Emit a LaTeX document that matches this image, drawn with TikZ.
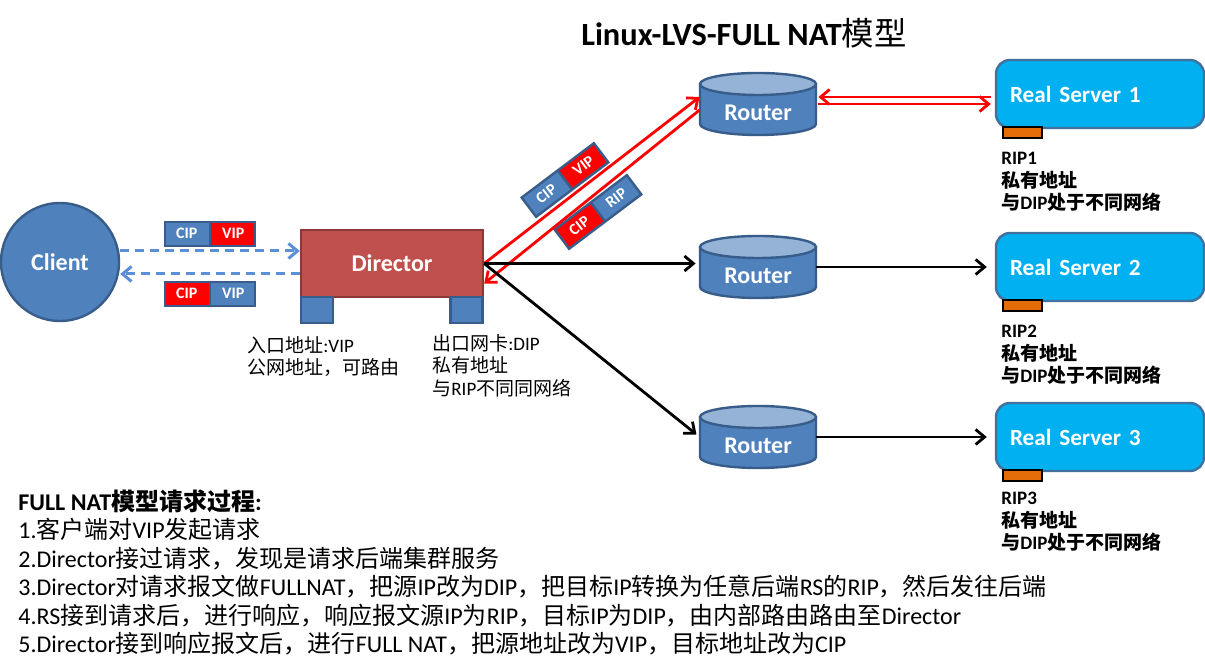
\documentclass[tikz,border=0pt]{standalone}
\usepackage{fontspec}
\setmainfont{Carlito}
\newfontfamily\cjk{Noto Sans CJK SC}
\newcommand\cj[1]{{\cjk #1}}
\usetikzlibrary{arrows.meta,shapes.multipart,calc}
\definecolor{nblue}{HTML}{4F81BD}
\definecolor{nbluedark}{HTML}{385D8A}
\definecolor{lblue}{HTML}{95B3D7}
\definecolor{dred}{HTML}{C0504D}
\definecolor{dreddark}{HTML}{8C3836}
\definecolor{cyanbox}{HTML}{00B0F0}
\definecolor{cyandark}{HTML}{41719C}
\definecolor{orangepad}{HTML}{E36C09}
\definecolor{dashblue}{HTML}{5B8FD7}
\definecolor{pkred}{HTML}{FF0000}
\newcommand\cylshape[2]{%
  \filldraw[fill=nblue,draw=nbluedark,line width=1.2pt]
    ({#1-58},{#2-20}) -- ({#1-58},{#2+20})
    arc[start angle=180,end angle=0,x radius=58,y radius=11]
    -- ({#1+58},{#2-20}) -- cycle;
  \filldraw[fill=lblue,draw=nbluedark,line width=1.2pt]
    (#1,{#2-20}) ellipse[x radius=58,y radius=11];
}
\newcommand\pkt[1]{\rule[-3.6pt]{0pt}{12pt}#1}
\begin{document}
\begin{tikzpicture}[x=0.5pt,y=-0.5pt,
  boldw/.style={text=white,font=\bfseries\fontsize{12}{14}\selectfont},
  clientnode/.style={circle,fill=nblue,draw=nbluedark,line width=1.2pt,minimum size=59pt,inner sep=0pt,boldw},
  dirnode/.style={rectangle,fill=dred,draw=dreddark,line width=1.2pt,minimum width=91pt,minimum height=33.5pt,inner sep=0pt,boldw},
  nicnode/.style={rectangle,fill=nblue,draw=nbluedark,line width=1.2pt,minimum width=16pt,minimum height=13pt,inner sep=0pt},
  routernode/.style={rectangle,minimum width=58pt,minimum height=31pt,inner sep=0pt,boldw,text height=17pt,text depth=0pt},
  rsnode/.style={rectangle,rounded corners=7pt,fill=cyanbox,draw=cyandark,line width=1.2pt,minimum width=104pt,minimum height=34pt,inner xsep=7pt,text width=90pt,align=left,text=white,font=\bfseries\fontsize{11.6}{14}\selectfont},
  padnode/.style={rectangle,fill=orangepad,draw=black,line width=1pt,minimum width=19.5pt,minimum height=5.5pt,inner sep=0pt},
  packet/.style={rectangle split,rectangle split horizontal,rectangle split parts=2,draw=nbluedark,line width=1.2pt,inner xsep=0pt,inner ysep=0pt,text width=22pt,align=center,text=white,font=\bfseries\fontsize{8}{9}\selectfont},
  smalllbl/.style={anchor=north west,inner sep=0pt,align=left,font=\fontsize{9.5}{11.25}\selectfont},
  arrowtip/.style={-{Straight Barb[length=4.5pt,width=7.5pt]}},
  blkarr/.style={draw=black,line width=1.4pt,arrowtip},
  redarr/.style={draw=pkred,line width=1.4pt,arrowtip},
  dasharr/.style={draw=dashblue,line width=1.5pt,dash pattern=on 4.5pt off 3pt,arrowtip}
]
\useasboundingbox[fill=white] (0,0) rectangle (1205,667);

% title
\node[font=\bfseries\fontsize{16.2}{19}\selectfont] (title) at (744,33) {Linux-LVS-FULL NAT\cj{\mdseries 模型}};

% routers (cylinder bodies)
\cylshape{758}{104}
\cylshape{758}{267}
\cylshape{758}{437}

% nodes
\node[clientnode] (client) at (60,262) {Client};
\node[dirnode] (dir) at (392,263.5) {Director};
\node[nicnode] (nicl) at (317,310) {};
\node[nicnode] (nicr) at (466.5,310) {};

\node[routernode] (r1) at (758,104) {Router};
\node[routernode] (r2) at (758,267) {Router};
\node[routernode] (r3) at (758,437) {Router};

\node[rsnode] (rs1) at (1100,94) {Real Server 1};
\node[rsnode] (rs2) at (1100,267) {Real Server 2};
\node[rsnode] (rs3) at (1100,437) {Real Server 3};
\node[padnode] (pad1) at (1022,133) {};
\node[padnode] (pad2) at (1022,306) {};
\node[padnode] (pad3) at (1022,476) {};

% packets
\node[packet,rectangle split part fill={nblue,pkred}] (pk1) at (210,234) {\pkt{CIP}\nodepart{two}\pkt{VIP}};
\node[packet,rectangle split part fill={pkred,nblue}] (pk2) at (210,294) {\pkt{CIP}\nodepart{two}\pkt{VIP}};
\node[packet,rotate=37,rectangle split part fill={nblue,pkred}] (pk3) at (565,180) {\pkt{CIP}\nodepart{two}\pkt{VIP}};
\node[packet,rotate=37,rectangle split part fill={pkred,nblue}] (pk4) at (598,212) {\pkt{CIP}\nodepart{two}\pkt{RIP}};

% labels
\node[smalllbl] (lblin) at (247,336) {\cj{入口地址}:VIP\\\cj{公网地址，可路由}};
\node[smalllbl] (lblout) at (432,334) {\cj{出口网卡}:DIP\\\cj{私有地址}\\\cj{与}RIP\cj{不同同网络}};
\node[smalllbl,font=\bfseries\fontsize{9.5}{11.25}\selectfont] (lbl1) at (1001,152) {RIP1\\\cj{私有地址}\\\cj{与}DIP\cj{处于不同网络}};
\node[smalllbl,font=\bfseries\fontsize{9.5}{11.25}\selectfont] (lbl2) at (1001,325) {RIP2\\\cj{私有地址}\\\cj{与}DIP\cj{处于不同网络}};
\node[smalllbl,font=\bfseries\fontsize{9.5}{11.25}\selectfont] (lbl3) at (1001,492) {RIP3\\\cj{私有地址}\\\cj{与}DIP\cj{处于不同网络}};

\node[anchor=north west,inner sep=0pt,align=left,font=\fontsize{12}{14.25}\selectfont] (steps) at (18,489) {%
\textbf{FULL NAT\cj{模型请求过程}:}\\
1.\cj{客户端对}VIP\cj{发起请求}\\
2.Director\cj{接过请求，发现是请求后端集群服务}\\
3.Director\cj{对请求报文做}FULLNAT\cj{，把源}IP\cj{改为}DIP\cj{，把目标}IP\cj{转换为任意后端}RS\cj{的}RIP\cj{，然后发往后端}\\
4.RS\cj{接到请求后，进行响应，响应报文源}IP\cj{为}RIP\cj{，目标}IP\cj{为}DIP\cj{，由内部路由路由至}Director\\
5.Director\cj{接到响应报文后，进行}FULL NAT\cj{，把源地址改为}VIP\cj{，目标地址改为}CIP};

% connectors
\coordinate (cu) at ([yshift=5.5pt]client.east);
\coordinate (cl) at ([yshift=-6pt]client.east);
\draw[dasharr] (cu) -- (cu -| dir.west);
\draw[dasharr] (cl -| dir.west) -- (cl);

\draw[redarr] (dir.east) -- ([yshift=3.5pt]r1.west);
\draw[redarr] ([yshift=-3pt]r1.west) -- ([yshift=-10pt]dir.east);

\draw[blkarr,shorten >=2pt] (dir.east) -- (dir.east -| r2.west);
\draw[blkarr,shorten >=2pt] (dir.east) -- (r3.west);
\draw[blkarr,shorten >=4pt] (r2.east) -- (rs2.west);
\draw[blkarr,shorten >=4pt] (r3.east) -- (rs3.west);

\coordinate (r1u) at ([yshift=3.5pt,xshift=1pt]r1.east);
\coordinate (r1d) at ([xshift=1pt]r1.east);
\draw[redarr,shorten <=2pt] (r1u -| rs1.west) -- (r1u);
\draw[redarr,shorten >=2pt] (r1d) -- (r1d -| rs1.west);
\end{tikzpicture}
\end{document}
